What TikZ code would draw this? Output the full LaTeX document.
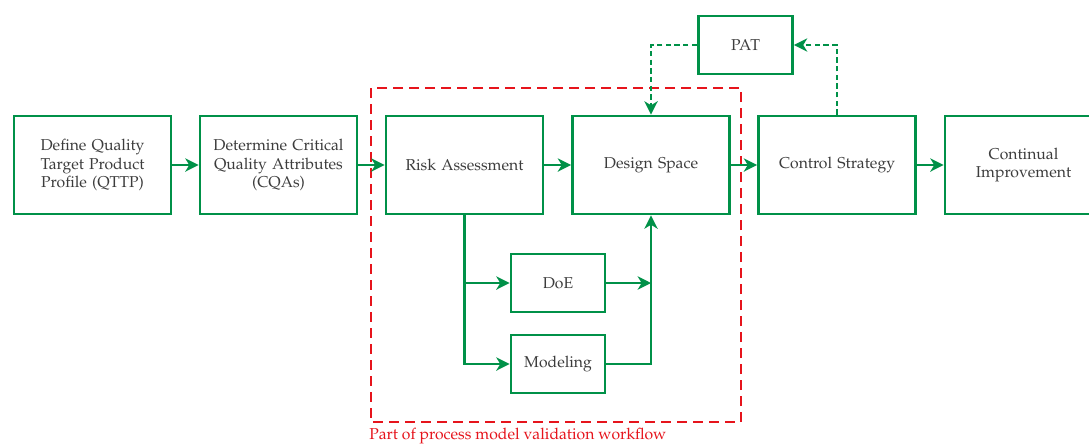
\documentclass[tikz,border=0pt]{standalone}
\usepackage[T1]{fontenc}
\usepackage{mathpazo}
\usetikzlibrary{arrows.meta}
\definecolor{qgreen}{RGB}{0,145,72}
\definecolor{qred}{RGB}{230,20,28}
\definecolor{qtext}{RGB}{60,60,60}
\tikzset{
  stage/.style={draw=qgreen, line width=2.1pt, rectangle, minimum width=157*0.75pt,
    minimum height=98*0.75pt, text width=145*0.75pt, align=center, inner sep=0pt,
    text=qtext, font=\fontsize{11.8}{13.8}\selectfont},
  small/.style={stage, minimum width=94*0.75pt, minimum height=58*0.75pt, text width=88*0.75pt},
  flow/.style={draw=qgreen, line width=2.1pt, -{Stealth[length=10pt,width=10pt,inset=3pt]}},
  feedback/.style={flow, dash pattern=on 4pt off 2.5pt},
}
\begin{document}
\begin{tikzpicture}[x=0.75pt, y=-0.75pt]
\clip (0,0) rectangle (1089,444);
\fill[white] (0,0) rectangle (1089,444);

% process stages
\node[stage] (qttp) at (92.5,165) {Define Quality\\Target Product\\Profile (QTTP)};
\node[stage] (cqa)  at (278.5,165) {Determine Critical\\Quality Attributes\\(CQAs)};
\node[stage] (risk) at (464.5,165) {Risk Assessment};
\node[stage] (ds)   at (651,165) {Design Space};
\node[stage] (ctrl) at (837,165) {Control Strategy};
\node[stage] (ci)   at (1023.5,165) {Continual\\Improvement};
\node[small] (pat)  at (745.5,45) {PAT};
\node[small] (doe)  at (558,283) {DoE};
\node[small] (mod)  at (558,364) {Modeling};

% validation workflow frame
\draw[qred, line width=2.1pt, dash pattern=on 7.5pt off 4.5pt] (371,88) rectangle (741,422);
\node[anchor=base west, text=qred, inner sep=0pt, font=\fontsize{11.8}{13.8}\selectfont] (lbl) at (369,439)
  {Part of process model validation workflow};

% main flow
\draw[flow] (qttp) -- (cqa);
\draw[flow] (cqa) -- (risk);
\draw[flow] (risk) -- (ds);
\draw[flow] (ds) -- (ctrl);
\draw[flow] (ctrl) -- (ci);

% branches through DoE and Modeling
\draw[flow] (risk.south) |- (doe.west);
\draw[flow] (risk.south) |- (mod.west);
\coordinate (join) at (ds.south |- doe.east);
\draw[flow] (doe.east) -- (join);
\draw[flow] (mod.east) -| (ds.south);

% PAT feedback loop
\draw[feedback] (pat.west) -| (ds.north);
\draw[feedback] (ctrl.north) |- (pat.east);
\end{tikzpicture}
\end{document}
